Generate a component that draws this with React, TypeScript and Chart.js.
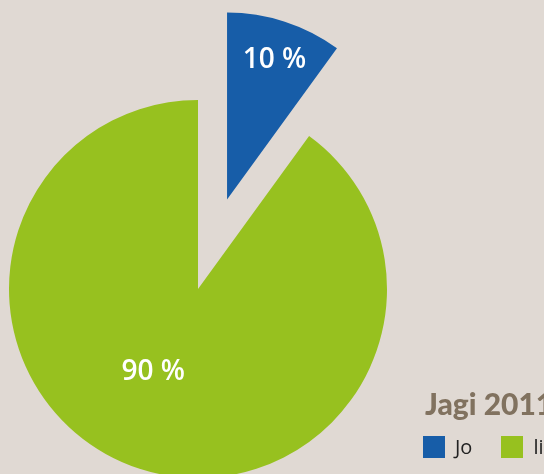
import React, { useEffect, useRef } from "react";
import { Chart, registerables } from "chart.js";

Chart.register(...registerables);

const categories = ["Jo", "liitmed"];
const values = [10, 90];
const valueLabels = ["10 %", "90 %"];
const legendTitle = "Jagi 2011";
const colors = ["#175DA8", "#97C11F"];
const BG = "#E0D9D3";

const PIE_RADIUS = 189;
const EXPLODED_RADIUS = 187;
const EXPLODE = [94, 0]; // translation of each slice along its bisector, px

// Moves exploded slices along their bisector without changing their angles.
const explodePlugin = {
  id: "explode",
  afterDatasetUpdate(chart: any, args: any) {
    args.meta.data.forEach((arc: any, i: number) => {
      const d = EXPLODE[i] || 0;
      if (!d) return;
      arc.outerRadius = EXPLODED_RADIUS;
      if (arc.$exploded) return;
      arc.$exploded = true;
      const orig = arc.draw;
      arc.draw = function (ctx: CanvasRenderingContext2D, area: any) {
        const mid = (this.startAngle + this.endAngle) / 2;
        ctx.save();
        ctx.translate(Math.cos(mid) * d, Math.sin(mid) * d);
        orig.call(this, ctx, area);
        ctx.restore();
      };
    });
  },
};

const labelPlugin = {
  id: "sliceLabels",
  afterDatasetsDraw(chart: any, _args: any, opts: any) {
    const ctx = chart.ctx;
    const meta = chart.getDatasetMeta(0);
    ctx.save();
    ctx.fillStyle = "#ffffff";
    ctx.font = "600 28px 'Open Sans'";
    ctx.textAlign = "center";
    ctx.textBaseline = "middle";
    meta.data.forEach((arc: any, i: number) => {
      const mid = (arc.startAngle + arc.endAngle) / 2;
      const off = EXPLODE[i] || 0;
      const cx = arc.x + Math.cos(mid) * off;
      const cy = arc.y + Math.sin(mid) * off;
      const a = mid + opts.shifts[i];
      const r = arc.outerRadius * opts.fractions[i];
      ctx.fillText(valueLabels[i], cx + Math.cos(a) * r, cy + Math.sin(a) * r);
    });
    ctx.restore();
  },
};

export default function App() {
  const ref = useRef<HTMLCanvasElement>(null);
  useEffect(() => {
    document.body.style.margin = "0";
    document.body.style.background = BG;
    const chart = new Chart(ref.current!, {
      type: "pie",
      data: {
        labels: categories,
        datasets: [
          {
            data: values,
            backgroundColor: colors,
            borderWidth: 0,
            hoverOffset: 0,
          },
        ],
      },
      options: {
        responsive: false,
        animation: false,
        radius: PIE_RADIUS,
        layout: { padding: { left: 0, right: 148, top: 104, bottom: 0 } },
        plugins: {
          legend: { display: false },
          tooltip: { enabled: false },
          sliceLabels: { fractions: [0.79, 0.5], shifts: [0.013, 0.18] },
        } as any,
        events: [],
      },
      plugins: [explodePlugin, labelPlugin],
    });
    return () => chart.destroy();
  }, []);

  return (
    <div
      style={{
        position: "absolute",
        left: 0,
        top: 0,
        width: 544,
        height: 474,
        overflow: "hidden",
        background: BG,
      }}
    >
      <canvas ref={ref} width={544} height={474} style={{ display: "block" }} />
      <div
        style={{
          position: "absolute",
          left: 425,
          top: 385,
          fontFamily: "Lato, 'Open Sans', sans-serif",
          fontWeight: 900,
          fontSize: 30,
          color: "#81725F",
          whiteSpace: "nowrap",
          lineHeight: "36px",
        }}
      >
        {legendTitle}
      </div>
      <div
        style={{
          position: "absolute",
          left: 423,
          top: 436,
          display: "flex",
          alignItems: "center",
          whiteSpace: "nowrap",
          fontFamily: "'Open Sans', sans-serif",
          fontSize: 20,
          color: "#222",
        }}
      >
        {categories.map((c, i) => (
          <div key={c} style={{ display: "flex", alignItems: "center", marginRight: i === 0 ? 29 : 0 }}>
            <span style={{ width: 22, height: 22, background: colors[i], display: "inline-block", marginRight: 10 }} />
            <span style={{ lineHeight: "22px" }}>{c}</span>
          </div>
        ))}
      </div>
    </div>
  );
}
